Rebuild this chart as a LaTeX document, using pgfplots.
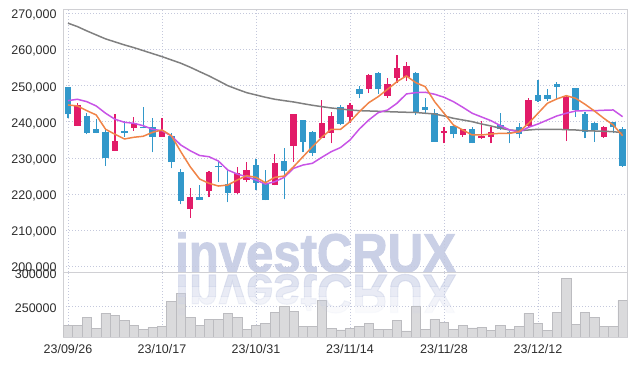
\documentclass[border=0pt]{standalone}
\usepackage{fontspec}
\setmainfont{Liberation Sans}
\newfontfamily\wmfont{Liberation Sans}[BoldFeatures={FakeBold=2}]
\usepackage{pgfplots}
\pgfplotsset{compat=1.18}
\usepackage{pgfplotstable}

\definecolor{upc}{RGB}{226,27,104}
\definecolor{dnc}{RGB}{50,152,202}
\definecolor{mafive}{RGB}{240,132,72}
\definecolor{maten}{RGB}{200,84,230}
\definecolor{malong}{RGB}{128,128,128}
\definecolor{gridc}{RGB}{196,200,220}
\definecolor{framec}{RGB}{208,208,212}
\definecolor{wm}{RGB}{202,208,230}
\definecolor{volf}{RGB}{218,218,220}
\definecolor{vold}{RGB}{188,188,192}
\definecolor{lab}{RGB}{45,45,45}

\pgfplotstableread{
x o h l c
1 238890 245260 238800 244630
5 231970 242130 231880 234650
7 238340 241385 237510 239560
10 235850 240940 235760 237510
13 215735 221550 213410 219140
15 220890 226430 219060 226070
18 220170 227535 219970 225870
19 223850 228920 223300 226540
22 222470 231050 222400 228640
24 233350 242200 228920 242130
27 235570 246010 235400 239720
28 236950 242770 234020 241660
30 241385 245100 239720 244630
32 249060 253100 247870 252940
34 247200 252190 246650 250440
35 252190 258480 250640 254790
36 252300 256620 251360 255430
40 236950 238450 234020 237510
42 236320 238000 235850 237980
44 235400 240280 235200 236040
45 235850 238450 234020 237150
49 238810 246650 238600 246010
53 237890 247200 234650 246930
57 235850 238700 235600 238450
}\upt

\pgfplotstableread{
x o h l c
0 249530 249600 240940 242050
2 241580 242330 236510 236950
3 237895 240665 236790 236950
4 237150 237700 227730 230030
6 237420 240280 235850 236950
8 238615 243990 238170 238340
9 238450 240940 231520 235850
11 236040 236790 227090 228840
12 226070 226815 217120 218120
14 219140 222470 218310 218390
16 227730 228920 223380 227370
17 222740 226815 217670 220170
20 228000 229585 221080 223100
21 222940 226620 218200 218310
23 229110 232630 218500 226430
25 240470 240600 231520 234380
26 237230 237400 230500 231410
29 244155 244630 239000 239360
31 249060 249890 246480 247760
33 253570 253850 247670 248970
37 253570 253850 241860 242490
38 244070 246480 242330 243320
39 242490 243430 234400 234460
41 238800 239090 235400 236510
43 237980 238450 234000 234020
46 239090 242490 237700 237890
47 237230 237300 234020 236950
48 238450 239560 235400 236510
50 247400 251550 245540 245730
51 247400 249060 245820 246290
52 250440 250910 246010 249700
54 249250 249400 241385 243240
55 242130 242770 235400 237060
56 239720 239900 234460 237700
58 239830 240000 236790 238450
59 237890 238450 227535 227810
}\dnt

\pgfplotstableread{
x ma5 ma10 malong vol
0 244630 245820 267257 221630
1 244350 246205 266315 221630
2 243050 245540 265125 233390
3 241860 244350 264015 217220
4 237895 242330 262910 239270
5 236510 240665 262075 236330
6 235210 239835 261245 228980
7 235680 239555 260500 221630
8 235960 238890 259670 215750
9 237060 237895 258835 218690
10 237700 237505 258005 220160
11 236120 236040 257090 256910
12 231690 233545 256175 268670
13 227535 231965 255070 233390
14 224130 230640 253850 221630
15 222940 230305 252660 230450
16 222190 229115 251330 230450
17 222470 226620 249970 239270
18 223850 225510 248975 233390
19 225040 224765 248035 215750
20 224600 223850 247395 221630
21 223100 222740 246760 224570
22 224600 223380 246205 240740
23 224960 224600 245820 249560
24 227535 227090 245455 242210
25 230300 228005 244985 220160
26 233080 228480 244540 220160
27 235680 230140 244155 258380
28 237895 231690 243795 217220
29 237895 232855 243520 214720
30 240000 234930 243240 217220
31 242770 237980 243045 220160
32 245260 240470 242965 224570
33 246925 242495 242880 215750
34 248975 243240 242770 215750
35 251080 245095 242685 228980
36 252660 247675 242605 213250
37 250800 248035 242550 249560
38 249695 248145 242330 215750
39 245540 247590 242130 230450
40 242330 246760 241580 226040
41 239085 245540 240940 215750
42 237700 243990 240470 221630
43 236315 242330 240000 217660
44 236315 241300 239360 218690
45 236590 240275 238810 214280
46 236785 238890 238170 221630
47 236785 237700 237700 215750
48 237230 237145 237505 220160
49 239555 238450 237700 239270
50 242330 239360 237895 224570
51 245095 240470 237895 214280
52 246290 241580 237895 240740
53 247200 242330 237785 290130
54 246480 242960 237700 223100
55 244820 243045 237505 240740
56 242960 243045 237425 233390
57 240940 243160 237340 220160
58 239085 243240 237230 220160
59 236120 241385 236955 258380
}\mat

\pgfplotsset{
  basechart/.style={
    scale only axis, width=564pt,
    xmin=-0.5, xmax=59.5,
    xtick={0,10,20,30,40,50},
    scaled y ticks=false, scaled x ticks=false,
    grid=major,
    major grid style={draw=gridc, line width=0.6pt, dash pattern=on 1pt off 2pt},
    axis line style={draw=framec, line width=0.8pt},
    major tick length=0pt,
    tick label style={font=\fontsize{12.5}{14}\selectfont, text=lab},
    yticklabel style={anchor=east, inner sep=0pt, xshift=-6.5pt, yshift=-2pt},
    xticklabel style={anchor=north, inner sep=0pt, yshift=-7.5pt},
  },
}

\begin{document}
\begin{tikzpicture}
\useasboundingbox (-63.3pt,-29pt) rectangle (573.7pt,337pt);
% watermark
\node[anchor=base west, inner sep=0pt, xscale=0.9, text=wm,
      font=\fontsize{54.5}{60}\wmfont\bfseries] at (111.7pt,65pt) {investCRUX};

\begin{axis}[basechart, at={(0,65pt)}, anchor=south west, height=262.7pt,
  ymin=198400, ymax=271100,
  ytick={200000,210000,220000,230000,240000,250000,260000,270000},
  yticklabels={{200,000},{210,000},{220,000},{230,000},{240,000},{250,000},{260,000},{270,000}},
  xticklabels={}]
% wicks
\addplot[draw=none, forget plot, error bars/.cd, y dir=plus, y explicit, error mark=none,
  error bar style={draw=upc, line width=1.3pt}]
  table[x=x, y=l, y error expr=\thisrow{h}-\thisrow{l}] {\upt};
\addplot[draw=none, forget plot, error bars/.cd, y dir=plus, y explicit, error mark=none,
  error bar style={draw=dnc, line width=1.3pt}]
  table[x=x, y=l, y error expr=\thisrow{h}-\thisrow{l}] {\dnt};
% bodies
\addplot[draw=none, forget plot, error bars/.cd, y dir=plus, y explicit, error mark=none,
  error bar style={draw=upc, line width=6.3pt}]
  table[x=x, y=o, y error expr=\thisrow{c}-\thisrow{o}] {\upt};
\addplot[draw=none, forget plot, error bars/.cd, y dir=plus, y explicit, error mark=none,
  error bar style={draw=dnc, line width=6.3pt}]
  table[x=x, y=c, y error expr=\thisrow{o}-\thisrow{c}] {\dnt};
% moving averages
\addplot[malong, line width=1.5pt, mark=none] table[x=x, y=malong] {\mat};
\addplot[maten, line width=1.5pt, mark=none] table[x=x, y=ma10] {\mat};
\addplot[mafive, line width=1.5pt, mark=none] table[x=x, y=ma5] {\mat};
\end{axis}

\begin{axis}[basechart, at={(0,0)}, anchor=south west, height=65pt,
  ymin=204400, ymax=300000,
  ytick={250000,300000}, yticklabels={250000,300000},
  xticklabels={23/09/26,23/10/17,23/10/31,23/11/14,23/11/28,23/12/12}]
\addplot[ybar, bar width=9.4pt, fill=volf, draw=vold, line width=0.5pt] table[x=x, y=vol] {\mat};
\end{axis}

% reflection of the watermark
\begin{scope}
\clip (100pt,62pt) rectangle (400pt,50pt);
\node[anchor=base west, inner sep=0pt, xscale=0.9, yscale=-1, text=wm, opacity=0.6,
      font=\fontsize{54.5}{60}\wmfont\bfseries] at (111.7pt,62pt) {investCRUX};
\end{scope}
\begin{scope}
\clip (100pt,50pt) rectangle (400pt,40pt);
\node[anchor=base west, inner sep=0pt, xscale=0.9, yscale=-1, text=wm, opacity=0.42,
      font=\fontsize{54.5}{60}\wmfont\bfseries] at (111.7pt,62pt) {investCRUX};
\end{scope}
\begin{scope}
\clip (100pt,40pt) rectangle (400pt,31pt);
\node[anchor=base west, inner sep=0pt, xscale=0.9, yscale=-1, text=wm, opacity=0.25,
      font=\fontsize{54.5}{60}\wmfont\bfseries] at (111.7pt,62pt) {investCRUX};
\end{scope}
\begin{scope}
\clip (100pt,31pt) rectangle (400pt,20pt);
\node[anchor=base west, inner sep=0pt, xscale=0.9, yscale=-1, text=wm, opacity=0.1,
      font=\fontsize{54.5}{60}\wmfont\bfseries] at (111.7pt,62pt) {investCRUX};
\end{scope}
\end{tikzpicture}
\end{document}
